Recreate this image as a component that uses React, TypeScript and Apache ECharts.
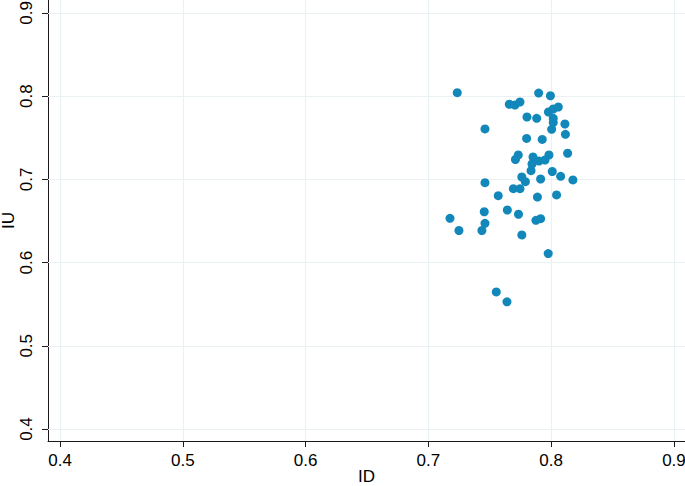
import React, { useEffect, useRef } from "react";
import * as echarts from "echarts";

const idValues = [
  0.7235, 0.7898, 0.7994, 0.7659, 0.7705, 0.7746, 0.7803, 0.7882, 0.7978, 0.8017,
  0.8058, 0.8017, 0.8017, 0.8112, 0.8004, 0.8116, 0.7461, 0.78, 0.7927, 0.7461,
  0.7569, 0.7732, 0.7709, 0.7852, 0.7901, 0.795, 0.7982, 0.8134, 0.7844, 0.7836,
  0.8009, 0.8077, 0.8177, 0.7761, 0.779, 0.7914, 0.7692, 0.7746, 0.7888, 0.8044,
  0.7176, 0.7249, 0.7455, 0.7461, 0.7436, 0.7643, 0.7734, 0.7876, 0.7914, 0.7761,
  0.7976, 0.7553, 0.764,
];
const iuValues = [
  0.8042, 0.8038, 0.8005, 0.7903, 0.7894, 0.793, 0.775, 0.7734, 0.781, 0.7846,
  0.787, 0.7734, 0.7684, 0.7666, 0.7602, 0.7542, 0.7606, 0.7492, 0.748, 0.696,
  0.6804, 0.7293, 0.7239, 0.7269, 0.7221, 0.7233, 0.7293, 0.7314, 0.7185, 0.7105,
  0.7095, 0.7037, 0.6993, 0.7029, 0.6972, 0.7005, 0.6888, 0.6888, 0.6788, 0.6813,
  0.6532, 0.6386, 0.6611, 0.6472, 0.6386, 0.6632, 0.6581, 0.6508, 0.6528, 0.6332,
  0.6109, 0.5647, 0.5529,
];
const xTicks = [0.4, 0.5, 0.6, 0.7, 0.8, 0.9];
const yTicks = [0.4, 0.5, 0.6, 0.7, 0.8, 0.9];

export default function App() {
  const ref = useRef<HTMLDivElement>(null);
  useEffect(() => {
    if (!ref.current) return;
    const chart = echarts.init(ref.current, null, { renderer: "svg" });
    const font = "'Liberation Sans', Arial, Helvetica, sans-serif";
    const gridColor = "#e9f1f3";
    const axisColor = "#1a1a1a";
    chart.setOption({
      animation: false,
      backgroundColor: "#ffffff",
      grid: {
        left: 48,
        right: 0,
        top: 0,
        bottom: 45,
        containLabel: false,
        outerBoundsMode: "none",
      },
      xAxis: {
        type: "value",
        min: 0.3902,
        max: 0.909,
        name: "ID",
        nameLocation: "middle",
        nameGap: 27,
        nameMoveOverlap: false,
        nameTextStyle: { fontFamily: font, fontSize: 17, color: "#000" },
        axisLine: { show: true, onZero: false, lineStyle: { color: axisColor, width: 1 } },
        axisTick: { show: true, customValues: xTicks, length: 6, lineStyle: { color: axisColor } },
        axisLabel: {
          customValues: xTicks,
          margin: 11,
          fontFamily: font,
          fontSize: 17,
          color: "#000",
          formatter: (v: number) => v.toFixed(1),
        },
        splitLine: { show: false },
      },
      yAxis: {
        type: "value",
        min: 0.3856,
        max: 0.9156,
        name: "IU",
        nameLocation: "middle",
        nameGap: 31,
        nameRotate: 90,
        nameMoveOverlap: false,
        nameTextStyle: { fontFamily: font, fontSize: 17, color: "#000" },
        axisLine: { show: true, onZero: false, lineStyle: { color: axisColor, width: 1 } },
        axisTick: { show: true, customValues: yTicks, length: 6, lineStyle: { color: axisColor } },
        axisLabel: {
          customValues: yTicks,
          rotate: 90,
          margin: 13,
          fontFamily: font,
          fontSize: 17,
          color: "#000",
          formatter: (v: number) => v.toFixed(1),
        },
        splitLine: { show: false },
      },
      series: [
        {
          type: "scatter",
          z: 1,
          data: [],
          silent: true,
          markLine: {
            z: 1,
            silent: true,
            symbol: ["none", "none"],
            label: { show: false },
            lineStyle: { color: gridColor, width: 1.2, type: "solid" },
            data: [
              ...xTicks.map((v) => ({ xAxis: v })),
              ...yTicks.map((v) => ({ yAxis: v })),
            ],
          },
        },
        {
          type: "scatter",
          z: 3,
          symbolSize: 9,
          itemStyle: { color: "#1288ba", opacity: 1 },
          data: idValues.map((x, i) => [x, iuValues[i]]),
        },
      ],
    });
    return () => chart.dispose();
  }, []);
  return (
    <div
      ref={ref}
      style={{ position: "fixed", left: 0, top: 0, width: 685, height: 486 }}
    />
  );
}
